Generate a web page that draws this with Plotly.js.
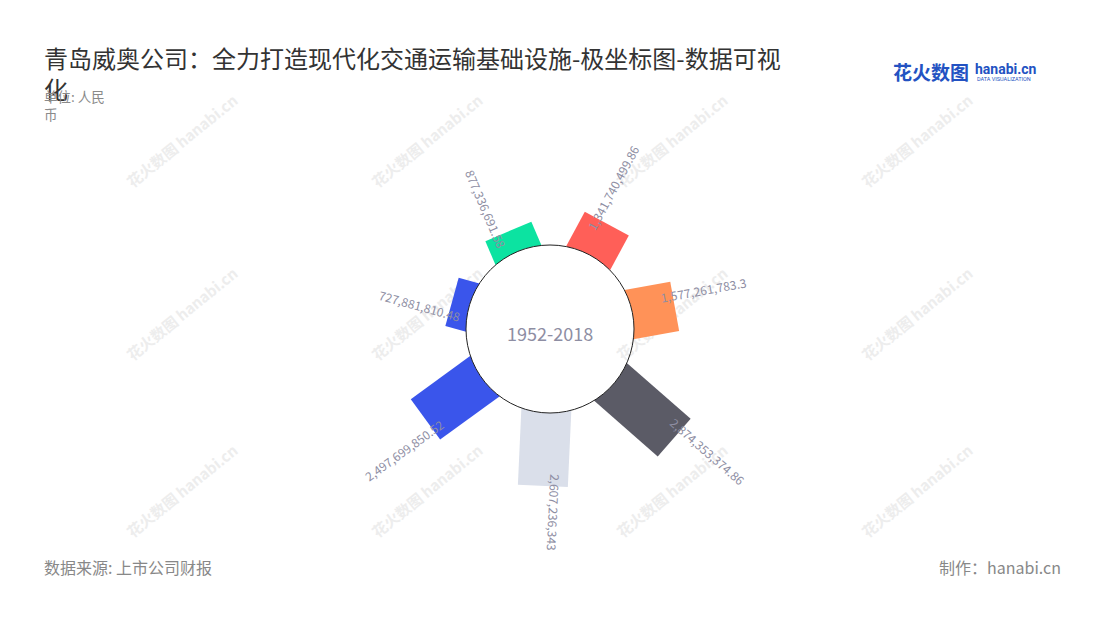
<!DOCTYPE html>
<html><head><meta charset="utf-8">
<script src="https://cdn.plot.ly/plotly-3.0.1.min.js"></script>
<style>html,body{margin:0;padding:0;background:#fff}#chart{width:1100px;height:620px}</style>
</head><body><div id="chart"></div>
<script>
// ---- data ----
const categories = ['A', 'B', 'C', 'D', 'E', 'F', 'G'];
const values = [1341740499.86, 1577261783.3, 2874353374.86, 2607236343, 2497699850.52, 727881810.48, 877336691.58];
const colors = ['#ff5f58', '#ff9258', '#5b5b66', '#dadfea', '#3a55eb', '#3a55eb', '#0ce3a1'];
const centerLabel = '1952-2018';
const titleText = '青岛威奥公司：全力打造现代化交通运输基础设施-极坐标图-数据可视<br>化';
const unitText = '单位: 人民<br>币';
const sourceText = '数据来源: 上市公司财报';
const creditText = '制作：hanabi.cn';

// ---- geometry ----
const W = 1100, H = 620, CX = 550, CY = 329, RPX = 240, HOLE = 84, HALF = 25, PXPER = 29.5e-9, START = 87.4;
const RMAX = (RPX - HOLE) / PXPER;
const toR = rho => (rho - HOLE) / (RPX - HOLE) * RMAX;
const deg = Math.PI / 180;
const N = values.length, STEP = 360 / N;
const FONT = '"Noto Sans CJK SC", "Noto Sans", sans-serif';
const LABEL_COLOR = '#8e8ea3';

const ctx = document.createElement('canvas').getContext('2d');
ctx.font = '12px "Noto Sans CJK SC"';
const fmt = v => v.toLocaleString('en-US', {maximumFractionDigits: 2});

const traces = [], annotations = [], shapes = [];
const d0 = Math.sqrt(HOLE * HOLE - HALF * HALF);
const aIn = Math.asin(HALF / HOLE) / deg;

values.forEach((v, i) => {
  const th = START - STEP * (i + 0.5);
  const d1 = d0 + v * PXPER;
  const rOut = toR(Math.hypot(d1, HALF));
  const aOut = Math.atan(HALF / d1) / deg;
  const txt = fmt(v);
  traces.push({
    type: 'scatterpolar', subplot: 'polar', mode: 'lines', fill: 'toself',
    fillcolor: colors[i], line: {width: 0, color: colors[i]},
    r: [0, rOut, rOut, 0, 0], theta: [th + aIn, th + aOut, th - aOut, th - aIn, th + aIn],
    name: categories[i], text: txt, hoverinfo: 'text', showlegend: false
  });
  const tw = ctx.measureText(txt).width;
  const dist = d1 - 12 + tw / 2;
  const t = th * deg, p = (th + 90) * deg;
  const px = CX + dist * Math.cos(t) + 12 * Math.cos(p);
  const py = CY - dist * Math.sin(t) - 12 * Math.sin(p);
  let thn = ((th % 360) + 360) % 360; if (thn > 180) thn -= 360;
  const ang = (Math.cos(t) > -0.1) ? -thn : 180 - thn;
  annotations.push({xref: 'paper', yref: 'paper', x: px / W, y: 1 - py / H, text: txt, textangle: ang,
    showarrow: false, xanchor: 'center', yanchor: 'middle', font: {family: FONT, size: 12, color: LABEL_COLOR}});
});

// hole circle
shapes.push({type: 'circle', xref: 'paper', yref: 'paper', layer: 'above',
  x0: (CX - HOLE) / W, x1: (CX + HOLE) / W, y0: (H - CY - HOLE) / H, y1: (H - CY + HOLE) / H,
  line: {color: '#222', width: 1}, fillcolor: 'rgba(0,0,0,0)'});

// watermarks
[183, 428, 673, 918].forEach(wx => [142, 315, 492].forEach(wy => {
  shapes.push({type: 'line', xref: 'paper', yref: 'paper', layer: 'below',
    x0: (wx - 55) / W, y0: 1 - (wy + 45) / H, x1: (wx + 55) / W, y1: 1 - (wy - 45) / H,
    line: {color: 'rgba(0,0,0,0)', width: 1},
    label: {text: '<b>花火数图</b> <b>hanabi.cn</b>', textangle: -39, textposition: 'middle', yanchor: 'middle',
      font: {family: FONT, size: 15, color: '#ededed'}}});
}));

const px2x = x => x / W, px2y = y => 1 - y / H;
annotations.push(
  {xref: 'paper', yref: 'paper', x: px2x(CX), y: px2y(CY + 4), text: centerLabel, showarrow: false,
   font: {family: FONT, size: 18, color: LABEL_COLOR}},
  {xref: 'paper', yref: 'paper', x: px2x(42), y: px2y(38), xanchor: 'left', yanchor: 'top', align: 'left',
   text: titleText, showarrow: false, font: {family: FONT, size: 24, color: '#333'}},
  {xref: 'paper', yref: 'paper', x: px2x(42), y: px2y(84), xanchor: 'left', yanchor: 'top', align: 'left',
   text: unitText, showarrow: false, font: {family: FONT, size: 13.5, color: '#8a8a8a'}},
  {xref: 'paper', yref: 'paper', x: px2x(42), y: px2y(567), xanchor: 'left', yanchor: 'middle',
   text: sourceText, showarrow: false, font: {family: FONT, size: 16, color: '#888'}},
  {xref: 'paper', yref: 'paper', x: px2x(1063), y: px2y(567), xanchor: 'right', yanchor: 'middle',
   text: creditText, showarrow: false, font: {family: FONT, size: 16, color: '#888'}},
  {xref: 'paper', yref: 'paper', x: px2x(891), y: px2y(72), xanchor: 'left', yanchor: 'middle',
   text: '<b>花火数图</b>', showarrow: false, font: {family: FONT, size: 19, color: '#2352c2'}},
  {xref: 'paper', yref: 'paper', x: px2x(973), y: px2y(69), xanchor: 'left', yanchor: 'middle',
   text: '<b>hanabi.cn</b>', showarrow: false, font: {family: 'Roboto, sans-serif', size: 14, color: '#2352c2'}},
  {xref: 'paper', yref: 'paper', x: px2x(975), y: px2y(79), xanchor: 'left', yanchor: 'middle',
   text: 'DATA VISUALIZATION', showarrow: false, font: {family: 'Roboto, sans-serif', size: 5.5, color: '#2352c2'}}
);

const layout = {
  width: W, height: H, margin: {l: 0, r: 0, t: 0, b: 0},
  paper_bgcolor: '#fff', showlegend: false,
  font: {family: FONT},
  polar: {
    domain: {x: [(CX - RPX) / W, (CX + RPX) / W], y: [(H - CY - RPX) / H, (H - CY + RPX) / H]},
    hole: HOLE / RPX, bgcolor: 'rgba(0,0,0,0)',
    radialaxis: {range: [0, RMAX], visible: false, showgrid: false},
    angularaxis: {visible: false, showgrid: false, rotation: 0, direction: 'counterclockwise'}
  },
  shapes: shapes, annotations: annotations
};
Plotly.newPlot('chart', traces, layout, {displayModeBar: false, staticPlot: false});
</script></body></html>
